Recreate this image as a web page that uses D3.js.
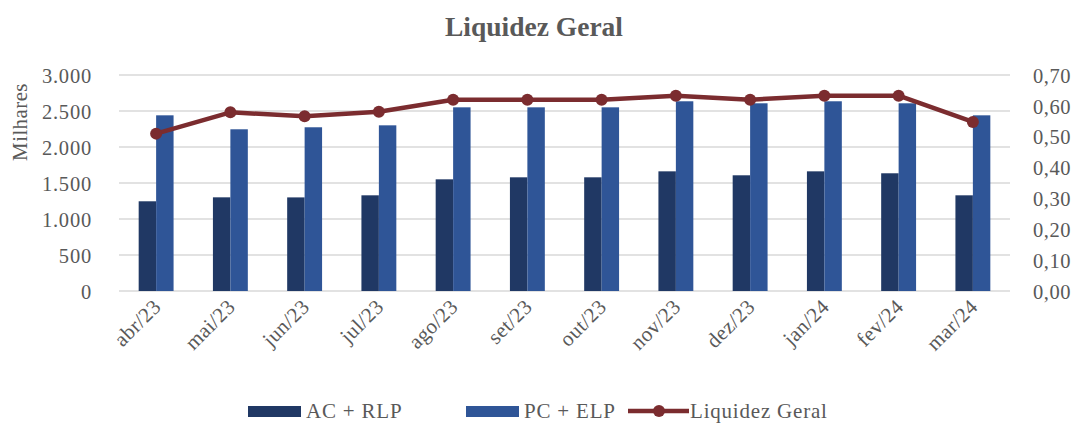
<!DOCTYPE html>
<html>
<head>
<meta charset="utf-8">
<script src="https://cdn.jsdelivr.net/npm/d3@7"></script>
<style>
  body { margin: 0; background: #fff; }
  text { font-family: "Liberation Serif", "DejaVu Serif", serif; fill: #595959; }
</style>
</head>
<body>
<svg></svg>
<script>
const months = ["abr/23", "mai/23", "jun/23", "jul/23", "ago/23", "set/23", "out/23", "nov/23", "dez/23", "jan/24", "fev/24", "mar/24"];
const acRlp = [1246, 1301, 1300, 1329, 1551, 1579, 1579, 1662, 1607, 1662, 1635, 1329];
const pcElp = [2440, 2246, 2274, 2301, 2551, 2551, 2551, 2635, 2607, 2635, 2607, 2440];
const liquidez = [0.510, 0.579, 0.566, 0.581, 0.620, 0.620, 0.620, 0.633, 0.620, 0.633, 0.633, 0.548];
const leftTicks = [0, 500, 1000, 1500, 2000, 2500, 3000];
const rightTicks = [0, 0.1, 0.2, 0.3, 0.4, 0.5, 0.6, 0.7];
const colors = ["#203864", "#2f5597", "#7b2c2f"];

const width = 1074, height = 425;
const margin = { top: 75, right: 64, bottom: 134, left: 119 };

const svg = d3.select("svg")
  .attr("width", width)
  .attr("height", height);

const x = d3.scaleBand()
  .domain(months)
  .range([margin.left, width - margin.right])
  .paddingInner(0.53)
  .paddingOuter(0.265);

const xSub = d3.scaleBand()
  .domain([0, 1])
  .range([0, x.bandwidth()]);

const y = d3.scaleLinear()
  .domain([0, 3000])
  .range([height - margin.bottom, margin.top]);

const y2 = d3.scaleLinear()
  .domain([0, 0.7])
  .range([height - margin.bottom, margin.top]);

const ptBR = d3.formatLocale({ decimal: ",", thousands: ".", grouping: [3], currency: ["R$", ""] });

// gridlines
svg.append("g")
  .selectAll("line")
  .data(leftTicks)
  .enter()
  .append("line")
  .attr("x1", margin.left)
  .attr("x2", width - margin.right)
  .attr("y1", d => y(d))
  .attr("y2", d => y(d))
  .attr("stroke", "#d9d9d9")
  .attr("stroke-width", 1.5);

// left axis
const leftAxis = svg.append("g")
  .attr("transform", `translate(${margin.left - 27},0)`)
  .call(d3.axisLeft(y).tickValues(leftTicks).tickSize(0).tickPadding(0)
    .tickFormat(ptBR.format(",")));
leftAxis.select(".domain").remove();
leftAxis.selectAll("text")
  .style("font-size", "20.5px")
  .style("letter-spacing", "0.8px")
  .attr("fill", "#595959")
  .attr("dy", "0.35em");

// right axis
const rightAxis = svg.append("g")
  .attr("transform", `translate(${width - margin.right + 23},0)`)
  .call(d3.axisRight(y2).tickValues(rightTicks).tickSize(0).tickPadding(0)
    .tickFormat(ptBR.format(".2f")));
rightAxis.select(".domain").remove();
rightAxis.selectAll("text")
  .style("font-size", "20.5px")
  .style("letter-spacing", "0.5px")
  .attr("fill", "#595959")
  .attr("dy", "0.35em");

// bars
const groups = svg.append("g")
  .selectAll("g")
  .data(months.map((m, i) => ({ m, vals: [acRlp[i], pcElp[i]] })))
  .enter()
  .append("g")
  .attr("transform", d => `translate(${x(d.m)},0)`);

groups.selectAll("rect")
  .data(d => d.vals)
  .enter()
  .append("rect")
  .attr("x", (d, i) => xSub(i))
  .attr("width", xSub.bandwidth())
  .attr("y", d => y(d))
  .attr("height", d => y(0) - y(d))
  .attr("fill", (d, i) => colors[i]);

// x labels
svg.append("g")
  .selectAll("text")
  .data(months)
  .enter()
  .append("text")
  .attr("text-anchor", "end")
  .attr("transform", d => `translate(${x(d) + x.bandwidth() / 2 + 6},${height - margin.bottom + 17}) rotate(-45)`)
  .style("font-size", "21px")
  .style("letter-spacing", "0.4px")
  .text(d => d);

// line
const line = d3.line()
  .x((d, i) => x(months[i]) + x.bandwidth() / 2)
  .y(d => y2(d));

svg.append("path")
  .datum(liquidez)
  .attr("d", line)
  .attr("fill", "none")
  .attr("stroke", colors[2])
  .attr("stroke-width", 4.5)
  .attr("stroke-linejoin", "round");

svg.append("g")
  .selectAll("circle")
  .data(liquidez)
  .enter()
  .append("circle")
  .attr("cx", (d, i) => x(months[i]) + x.bandwidth() / 2)
  .attr("cy", d => y2(d))
  .attr("r", 6)
  .attr("fill", colors[2]);

// title
svg.append("text")
  .attr("x", 534)
  .attr("y", 36)
  .attr("text-anchor", "middle")
  .style("font-size", "27.5px")
  .style("font-weight", "bold")
  .text("Liquidez Geral");

// y axis title
svg.append("text")
  .attr("transform", "translate(27,122) rotate(-90)")
  .attr("text-anchor", "middle")
  .style("font-size", "21px")
  .style("letter-spacing", "0.4px")
  .text("Milhares");

// legend
const legend = svg.append("g");
const legendY = 411;
const legendItems = [
  { label: "AC + RLP", x: 248, type: "bar", color: colors[0] },
  { label: "PC + ELP", x: 466, type: "bar", color: colors[1] },
  { label: "Liquidez Geral", x: 628, type: "line", color: colors[2] }
];
legendItems.forEach(item => {
  if (item.type === "bar") {
    legend.append("rect")
      .attr("x", item.x)
      .attr("y", legendY - 5)
      .attr("width", 53)
      .attr("height", 11)
      .attr("fill", item.color);
  } else {
    legend.append("line")
      .attr("x1", item.x)
      .attr("x2", item.x + 61)
      .attr("y1", legendY)
      .attr("y2", legendY)
      .attr("stroke", item.color)
      .attr("stroke-width", 4.5);
    legend.append("circle")
      .attr("cx", item.x + 31)
      .attr("cy", legendY)
      .attr("r", 6)
      .attr("fill", item.color);
  }
  legend.append("text")
    .attr("x", item.x + (item.type === "bar" ? 58 : 62))
    .attr("y", legendY)
    .attr("dy", "0.35em")
    .style("font-size", "21px")
    .style("letter-spacing", "0.8px")
    .text(item.label);
});
</script>
</body>
</html>
